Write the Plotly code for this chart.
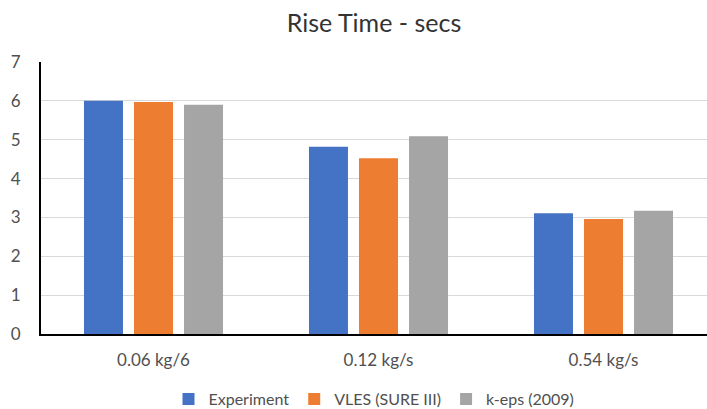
import plotly.graph_objects as go

categories = ["0.06 kg/6", "0.12 kg/s", "0.54 kg/s"]
experiment = [6.0, 4.82, 3.11]
vles = [5.97, 4.52, 2.96]
keps = [5.9, 5.09, 3.17]
series_names = ["Experiment", "VLES (SURE III)", "k-eps (2009)"]
colors = ["#4472C4", "#ED7D31", "#A5A5A5"]

FONT = "Lato"
fig = go.Figure()
for name, vals, col in zip(series_names, [experiment, vles, keps], colors):
    fig.add_trace(go.Bar(x=categories, y=vals, name=name, marker=dict(color=col, line=dict(width=0))))

fig.update_layout(
    width=707, height=409,
    margin=dict(l=41, r=0, t=62, b=75, autoexpand=False),
    paper_bgcolor="white", plot_bgcolor="white",
    barmode="group", bargap=0.333, bargroupgap=0.22,
    title=dict(text="Rise Time - secs", x=0.5, xref="paper", y=1 - 23/409, yanchor="middle",
               font=dict(family=FONT, size=25, color="#333333")),
    font=dict(family=FONT, color="#505050", size=16),
    legend=dict(orientation="h", x=0.5, xanchor="center", yref="container", y=1 - 399/409,
                yanchor="middle",
                font=dict(family=FONT, size=16, color="#505050"), traceorder="normal",
                itemwidth=30),
    showlegend=True,
)
fig.update_xaxes(type="category", range=[-0.5, 2.46], showline=True, linecolor="black", linewidth=2,
                 showgrid=False, ticks="", tickfont=dict(size=17, color="#505050"), ticklabelstandoff=10,
                 automargin=False)
fig.update_yaxes(range=[0, 7], dtick=1, showline=True, linecolor="black", linewidth=2,
                 showgrid=True, gridcolor="#D9D9D9", gridwidth=1, zeroline=False,
                 ticks="", ticklabelstandoff=15, tickfont=dict(size=17, color="#505050"),
                 automargin=False)

fig.write_html("out.html")
